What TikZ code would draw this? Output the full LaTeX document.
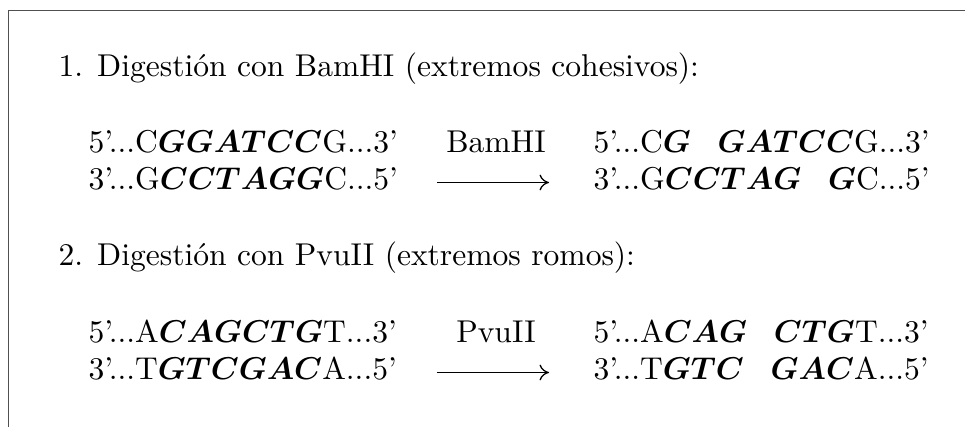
\documentclass[tikz,border=0pt]{standalone}
\usepackage{amsmath}
\usepackage{bm}
\usepackage{tikz}
\usetikzlibrary{positioning,calc,arrows.meta}
\definecolor{framegray}{RGB}{80,80,80}
\newcommand{\bb}[1]{$\bm{#1}$}
\newcommand{\nick}{\hspace{0.85em}}

\begin{document}
\begin{tikzpicture}[x=0.317pt,y=-0.317pt, heading/.style={anchor=base west, inner sep=0pt, font=\normalsize}, strand/.style={anchor=base west, inner sep=0pt}, enzyme/.style={anchor=base, inner sep=0pt}, cut/.style={-{To[length=3pt,width=5pt]}, line width=0.4pt}, frame/.style={draw=framegray, line width=0.6pt}]
\useasboundingbox (0,0) rectangle (965,427);
\draw[frame] (8.5,427) -- (8.5,10.5) -- (965,10.5);
% BamHI
\node[heading] (t1) at (58,77) {1. Digestión con BamHI (extremos cohesivos):};
\node[strand] (s1) at (88,153) {5’...C\bb{GGATCC}G...3’};
\node[strand] (s2) at (88,190) {3’...G\bb{CCTAGG}C...5’};
\node[strand] (r1) at (593,153) {5’...C\bb{G}\nick\bb{GATCC}G...3’};
\node[strand] (r2) at (593,190) {3’...G\bb{CCTAG}\nick\bb{G}C...5’};
\node[enzyme] (e1) at (496,153) {BamHI};
\coordinate (a1s) at (437,182.5);
\coordinate (a1e) at (549,182.5);
\draw[cut] (a1s) -- (a1e);
% PvuII
\node[heading] (t2) at (58,266) {2. Digestión con PvuII (extremos romos):};
\node[strand] (s3) at (88,343) {5’...A\bb{CAGCTG}T...3’};
\node[strand] (s4) at (88,380) {3’...T\bb{GTCGAC}A...5’};
\node[strand] (r3) at (593,343) {5’...A\bb{CAG}\nick\bb{CTG}T...3’};
\node[strand] (r4) at (593,380) {3’...T\bb{GTC}\nick\bb{GAC}A...5’};
\node[enzyme] (e2) at (496,343) {PvuII};
\coordinate (a2s) at (437,372.5);
\coordinate (a2e) at (549,372.5);
\draw[cut] (a2s) -- (a2e);
\end{tikzpicture}
\end{document}
